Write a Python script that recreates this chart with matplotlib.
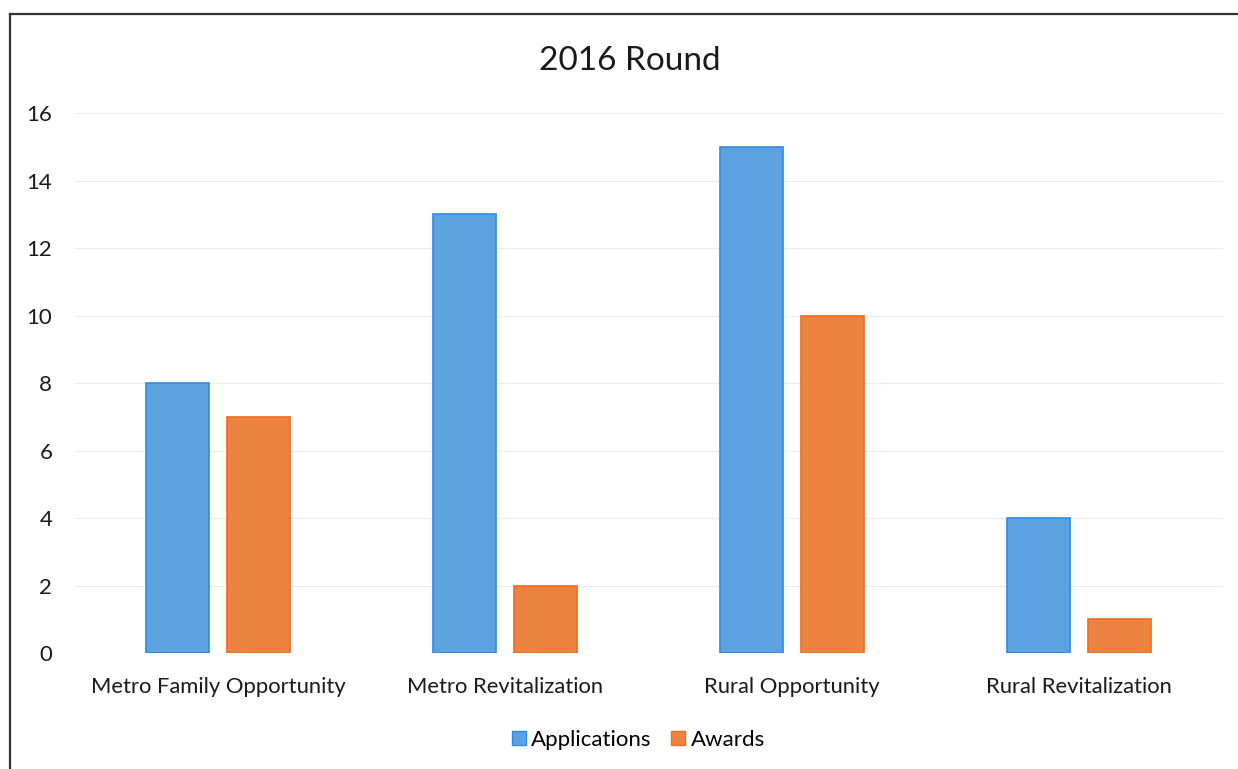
import matplotlib
matplotlib.use("Agg")
import matplotlib.pyplot as plt
import numpy as np
from matplotlib.lines import Line2D

categories = ["Metro Family Opportunity", "Metro Revitalization", "Rural Opportunity", "Rural Revitalization"]
applications = [8, 13, 15, 4]
awards = [7, 2, 10, 1]
yticks = [0, 2, 4, 6, 8, 10, 12, 14, 16]

plt.rcParams['font.family'] = ['Lato', 'DejaVu Sans']

fig = plt.figure(figsize=(12.38, 7.69), dpi=100)
ax = fig.add_axes([0.0602, 0.1508, 0.9273, 0.7022])

x = np.arange(len(categories))
w = 0.22
off = 0.141
ax.bar(x - off, applications, w, color="#5DA2E0", edgecolor="#2B8BE6", linewidth=1.2, zorder=3)
ax.bar(x + off, awards, w, color="#EB8440", edgecolor="#F26A1C", linewidth=1.2, zorder=3)

ax.set_xlim(-0.5, len(categories) - 0.5)
ax.set_ylim(0, 16)
ax.set_yticks(yticks)
ax.set_xticks(x)
ax.set_xticklabels(categories, fontsize=15.8, color="#1A1A1A")
ax.tick_params(axis='y', labelsize=16, colors="#1A1A1A", length=0, pad=16)
ax.tick_params(axis='x', length=0, pad=17)
ax.grid(axis='y', color="#ECECEC", linewidth=0.8, zorder=0)
for s in ax.spines.values():
    s.set_visible(False)

fig.text(0.509, 0.921, "2016 Round", ha='center', va='center', fontsize=24, color="#1A1A1A")

handles = [Line2D([], [], marker='s', linestyle='none', markersize=10, markerfacecolor="#5DA2E0", markeredgecolor="#2B8BE6"),
           Line2D([], [], marker='s', linestyle='none', markersize=10, markerfacecolor="#EB8440", markeredgecolor="#F26A1C")]
fig.legend(handles, ["Applications", "Awards"], loc='center', bbox_to_anchor=(0.5095, 0.038), ncol=2, frameon=False,
           fontsize=16, handletextpad=-0.45, columnspacing=0.2)

# frame edges at top and left
fig.add_artist(Line2D([10/1238, 1.0], [1 - 14/769, 1 - 14/769], color="#333333", linewidth=1.6))
fig.add_artist(Line2D([10/1238, 10/1238], [0, 1 - 14/769], color="#333333", linewidth=1.6))

fig.savefig("out.png", dpi=100)
